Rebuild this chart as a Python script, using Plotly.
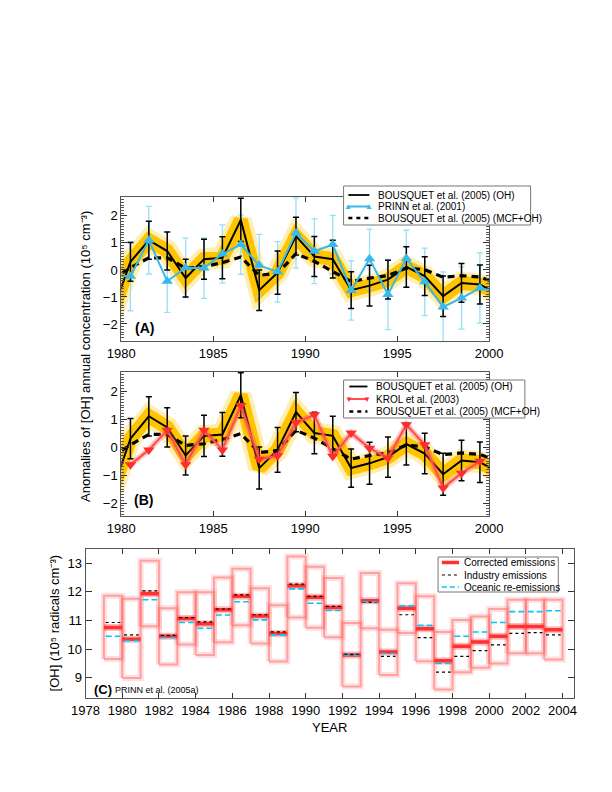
import plotly.graph_objects as go

W, H = 612, 792
FONT = "Liberation Sans, Arial, Helvetica, sans-serif"


def px(x):
    return x / W


def py(y):
    return 1 - y / H


# ---------------- Panels A & B data (annual anomalies, 10^5 cm^-3) ----------------
years = [1980.5, 1981.5, 1982.5, 1983.5, 1984.5, 1985.5, 1986.5, 1987.5, 1988.5, 1989.5,
         1990.5, 1991.5, 1992.5, 1993.5, 1994.5, 1995.5, 1996.5, 1997.5, 1998.5, 1999.5]
edge_years = [1979.5, 2000.5]

bousquet_oh = [0.30, 1.10, 0.70, -0.30, 0.40, 0.45, 1.85, -0.75, -0.10, 1.25,
               0.50, 0.40, -0.75, -0.58, -0.36, 0.11, -0.23, -0.97, -0.48, -0.54]
bousquet_oh_edges = [-1.6, -0.9]
bousquet_oh_err = [0.72, 0.70, 0.70, 0.70, 0.74, 0.78, 0.80, 0.75, 0.80, 0.70,
                   0.74, 0.70, 0.68, 0.75, 0.72, 0.75, 0.72, 0.75, 0.72, 0.72]

bousquet_mcf = [0.08, 0.45, 0.45, 0.06, 0.12, 0.27, 0.48, -0.20, -0.12, 0.60,
                0.32, -0.06, -0.43, -0.30, -0.21, 0.07, 0.01, -0.27, -0.21, -0.26]
bousquet_mcf_edges = [-0.35, -0.50]

prinn = [-0.23, 1.10, -0.42, 0.08, 0.07, 0.59, 0.94, 0.17, -0.07, 1.37,
         0.69, 0.94, -0.76, 0.41, -0.91, 0.42, -0.44, -1.37, -1.04, -0.67]
prinn_edges = [-0.20, -0.80]
prinn_err = [1.28, 1.25, 1.15, 1.10, 1.12, 1.08, 1.10, 1.15, 1.12, 1.30,
             1.20, 1.08, 1.10, 1.10, 1.30, 1.05, 1.25, 1.30, 1.15, 1.30]

krol = [-0.63, -0.10, 0.60, -0.63, 0.60, -0.10, 1.48, -0.43, -0.31, 0.88,
        1.15, -0.33, 0.50, -0.04, -0.39, 0.80, 0.08, -1.46, -0.93, -0.51]

# ---------------- Panel C data ([OH], 10^5 radicals cm^-3) ----------------
years_c = [1979, 1980, 1981, 1982, 1983, 1984, 1985, 1986, 1987, 1988, 1989, 1990, 1991,
           1992, 1993, 1994, 1995, 1996, 1997, 1998, 1999, 2000, 2001, 2002, 2003]
box_top = [11.86, 11.76, 13.08, 11.43, 11.98, 11.98, 12.50, 12.80, 12.12, 11.53, 13.23, 12.87, 12.48,
           10.91, 12.65, 10.68, 12.30, 11.84, 10.60, 11.02, 11.14, 11.40, 11.72, 11.72, 11.72]
box_bottom = [9.66, 9.00, 10.80, 9.47, 10.16, 9.80, 10.24, 10.83, 10.20, 9.57, 11.10, 10.75, 10.42,
              8.70, 10.73, 9.10, 10.56, 9.58, 8.60, 9.20, 9.35, 9.50, 9.86, 9.86, 9.64]
corrected = [10.76, 10.35, 11.93, 10.45, 11.07, 10.89, 11.37, 11.84, 11.16, 10.55, 12.21, 11.81, 11.45,
             9.80, 11.69, 9.90, 11.43, 10.71, 9.60, 10.10, 10.25, 10.45, 10.79, 10.79, 10.68]
industry = [10.93, 10.50, 12.03, 10.48, 11.10, 10.95, 11.40, 11.89, 11.20, 10.60, 12.27, 11.84, 11.49,
            9.82, 11.63, 9.75, 11.20, 10.40, 9.20, 9.75, 9.95, 10.15, 10.55, 10.58, 10.50]
oceanic = [10.45, 10.30, 11.72, 10.40, 10.93, 10.73, 11.19, 11.65, 11.02, 10.50, 12.10, 11.60, 11.35,
           9.78, 11.65, 9.85, 11.51, 10.83, 9.50, 10.45, 10.60, 10.93, 11.31, 11.31, 11.34]

ab_ticks = [1980, 1985, 1990, 1995, 2000]
c_ticks = [1978, 1980, 1982, 1984, 1986, 1988, 1990, 1992, 1994, 1996, 1998, 2000, 2002, 2004]

# ---------------- build ----------------
x_ext = [edge_years[0]] + years + [edge_years[1]]
oh_ext = [bousquet_oh_edges[0]] + bousquet_oh + [bousquet_oh_edges[1]]
mcf_ext = [bousquet_mcf_edges[0]] + bousquet_mcf + [bousquet_mcf_edges[1]]
prinn_ext = [prinn_edges[0]] + prinn + [prinn_edges[1]]

GOLD = "rgb(255,196,0)"
CYAN = "rgb(55,185,235)"
CYAN_LIGHT = "rgb(150,222,250)"
RED = "rgb(255,45,45)"

fig = go.Figure()


def add_bousquet(xa, ya):
    fig.add_trace(go.Scatter(x=x_ext, y=oh_ext, mode="lines", xaxis=xa, yaxis=ya,
                             line=dict(color="rgba(255,200,0,0.30)", width=22), showlegend=False,
                             hoverinfo="skip"))
    fig.add_trace(go.Scatter(x=x_ext, y=oh_ext, mode="lines", xaxis=xa, yaxis=ya,
                             line=dict(color=GOLD, width=14), showlegend=False, hoverinfo="skip"))


def add_black(xa, ya):
    fig.add_trace(go.Scatter(x=x_ext, y=oh_ext, mode="lines", xaxis=xa, yaxis=ya,
                             line=dict(color="black", width=2), showlegend=False))
    fig.add_trace(go.Scatter(x=years, y=bousquet_oh, mode="markers", xaxis=xa, yaxis=ya,
                             marker=dict(size=1, color="rgba(0,0,0,0)"),
                             error_y=dict(type="data", array=bousquet_oh_err, color="black",
                                          thickness=1.5, width=3),
                             showlegend=False))
    fig.add_trace(go.Scatter(x=x_ext, y=mcf_ext, mode="lines", xaxis=xa, yaxis=ya,
                             line=dict(color="black", width=3.2, dash="7px,5px"), showlegend=False))


# Panel A
add_bousquet("x", "y")
fig.add_trace(go.Scatter(x=years, y=prinn, mode="markers", xaxis="x", yaxis="y",
                         marker=dict(size=1, color="rgba(0,0,0,0)"),
                         error_y=dict(type="data", array=prinn_err, color=CYAN_LIGHT,
                                      thickness=1.3, width=3),
                         showlegend=False))
add_black("x", "y")
fig.add_trace(go.Scatter(x=x_ext, y=prinn_ext, mode="lines", xaxis="x", yaxis="y",
                         line=dict(color=CYAN, width=2), showlegend=False))
fig.add_trace(go.Scatter(x=years, y=prinn, mode="markers", xaxis="x", yaxis="y",
                         marker=dict(symbol="triangle-up", size=10, color=CYAN), showlegend=False))

# Panel B
add_bousquet("x2", "y2")
add_black("x2", "y2")
fig.add_trace(go.Scatter(x=years, y=krol, mode="lines", xaxis="x2", yaxis="y2",
                         line=dict(color="rgba(255,90,90,0.35)", width=6), showlegend=False))
fig.add_trace(go.Scatter(x=years, y=krol, mode="lines+markers", xaxis="x2", yaxis="y2",
                         line=dict(color="rgb(255,80,80)", width=2.2),
                         marker=dict(symbol="triangle-down", size=10, color=RED), showlegend=False))

# Panel C boxes
bx, by = [], []
cx, cy, ix, iy, ox, oy = [], [], [], [], [], []
for yr, t, b, c, ind, oc in zip(years_c, box_top, box_bottom, corrected, industry, oceanic):
    bx += [yr, yr + 1, yr + 1, yr, yr, None]
    by += [b, b, t, t, b, None]
    cx += [yr, yr + 1, None]
    cy += [c, c, None]
    ix += [yr + 0.1, yr + 0.9, None]
    iy += [ind, ind, None]
    ox += [yr + 0.1, yr + 0.9, None]
    oy += [oc, oc, None]

fig.add_trace(go.Scatter(x=bx, y=by, mode="lines", xaxis="x3", yaxis="y3",
                         line=dict(color="rgba(255,150,150,0.30)", width=6), showlegend=False))
fig.add_trace(go.Scatter(x=bx, y=by, mode="lines", xaxis="x3", yaxis="y3",
                         line=dict(color="rgba(255,110,110,0.55)", width=2), showlegend=False))
fig.add_trace(go.Scatter(x=cx, y=cy, mode="lines", xaxis="x3", yaxis="y3",
                         line=dict(color="rgba(255,60,60,0.35)", width=7), showlegend=False))
fig.add_trace(go.Scatter(x=cx, y=cy, mode="lines", xaxis="x3", yaxis="y3",
                         line=dict(color="rgb(255,50,50)", width=3.5), showlegend=False))
fig.add_trace(go.Scatter(x=ix, y=iy, mode="lines", xaxis="x3", yaxis="y3",
                         line=dict(color="black", width=1.2, dash="dot"), showlegend=False))
fig.add_trace(go.Scatter(x=ox, y=oy, mode="lines", xaxis="x3", yaxis="y3",
                         line=dict(color="rgb(0,200,250)", width=1.6, dash="6px,3px"), showlegend=False))

# ---------------- axes ----------------
tickfont = dict(family=FONT, size=13, color="black")
common_x = dict(showgrid=False, zeroline=False, showline=True, linecolor="#555", linewidth=1,
                mirror="ticks", ticks="inside", ticklen=5, tickcolor="#333", tickfont=tickfont)
common_y = dict(showgrid=False, zeroline=False, showline=True, linecolor="#555", linewidth=1,
                mirror="ticks", ticks="inside", ticklen=6, tickcolor="#333", tickfont=tickfont)

xdom_ab = [px(104), px(489.5)]
fig.update_layout(
    xaxis=dict(domain=xdom_ab, range=[1980, 2000], tickvals=ab_ticks, anchor="y", **common_x),
    yaxis=dict(domain=[py(333), py(189)], range=[-2.63, 2.70], tickvals=[-2, -1, 0, 1, 2],
               anchor="x", minor=dict(ticks="inside", dtick=0.1, ticklen=3, tickcolor="#555"),
               **common_y),
    xaxis2=dict(domain=xdom_ab, range=[1980, 2000], tickvals=ab_ticks, anchor="y2", **common_x),
    yaxis2=dict(domain=[py(508), py(364)], range=[-2.46, 2.68], tickvals=[-2, -1, 0, 1, 2],
                anchor="x2", minor=dict(ticks="inside", dtick=0.1, ticklen=3, tickcolor="#555"),
                **common_y),
    xaxis3=dict(domain=[px(66.6), px(578)], range=[1978, 2004.6], tickvals=c_ticks, anchor="y3",
                **common_x),
    yaxis3=dict(domain=[py(690), py(541)], range=[8.30, 13.49], tickvals=[9, 10, 11, 12, 13],
                anchor="x3", **common_y),
)

# ---------------- annotations & manual legends ----------------
ann = []
shapes = []


def text(x, y, s, size=11, bold=False, xanchor="left", angle=0, color="black"):
    ann.append(dict(x=px(x), y=py(y), xref="paper", yref="paper", text=("<b>%s</b>" % s) if bold else s,
                    showarrow=False, xanchor=xanchor, yanchor="middle", textangle=angle,
                    font=dict(family=FONT, size=size, color=color)))


def hline(x0, x1, y, color, width, dash="solid"):
    shapes.append(dict(type="line", xref="paper", yref="paper", x0=px(x0), x1=px(x1), y0=py(y), y1=py(y),
                       line=dict(color=color, width=width, dash=dash), layer="above"))


def box(x0, y0, x1, y1):
    shapes.append(dict(type="rect", xref="paper", yref="paper", x0=px(x0), x1=px(x1), y0=py(y1), y1=py(y0),
                       line=dict(color="#777", width=1), fillcolor="white", layer="above"))


# Legend A
box(337, 178, 533, 217)
hline(342, 364, 187, "black", 1.8)
text(371, 187, "BOUSQUET et al. (2005) (OH)", 10)
hline(342, 364, 198.5, CYAN, 2)
text(342, 198.5, "▲", 8, color=CYAN, xanchor="center")
text(364, 198.5, "▲", 8, color=CYAN, xanchor="center")
text(371, 198.5, "PRINN et al. (2001)", 10)
hline(342, 364, 210, "black", 2.6, "4px,4px")
text(371, 210, "BOUSQUET et al. (2005) (MCF+OH)", 10)

# Legend B
box(337, 372, 527, 410)
hline(343, 362, 378.5, "black", 1.8)
text(369, 378.5, "BOUSQUET et al. (2005) (OH)", 10)
hline(343, 362, 391, "rgb(255,80,80)", 2)
text(343, 391, "▼", 8, color=RED, xanchor="center")
text(362, 391, "▼", 8, color=RED, xanchor="center")
text(369, 391, "KROL et al. (2003)", 10)
hline(343, 362, 403.5, "black", 2.6, "4px,4px")
text(369, 403.5, "BOUSQUET et al. (2005) (MCF+OH)", 10)

# Legend C
box(436, 549, 562, 584)
hline(440, 458, 554.5, "rgb(255,50,50)", 3.5)
text(461, 554.5, "Corrected emissions", 10)
hline(440, 458, 567, "black", 1.2, "dot")
text(461, 567, "Industry emissions", 10)
hline(440, 458, 579, "rgb(0,200,250)", 1.6, "5px,3px")
text(461, 579, "Oceanic re-emissions", 10)

# Panel labels
text(116, 320, "(A)", 14, bold=True)
text(115, 492, "(B)", 14, bold=True)
text(73, 681, "(C)", 13, bold=True)
text(95, 682, "PRINN et al. (2005a)", 9)

# Axis titles
text(66, 348, "Anomalies of [OH] annual concentration (10⁵ cm⁻³)", 13, xanchor="center", angle=-90)
text(34, 615, "[OH] (10⁵ radicals cm⁻³)", 13, xanchor="center", angle=-90)
text(322, 719, "YEAR", 13, xanchor="center")

fig.update_layout(
    width=W, height=H,
    margin=dict(l=0, r=0, t=0, b=0),
    paper_bgcolor="white", plot_bgcolor="white",
    showlegend=False,
    annotations=ann, shapes=shapes,
    font=dict(family=FONT, size=13, color="black"),
)

fig.write_html("out.html")
